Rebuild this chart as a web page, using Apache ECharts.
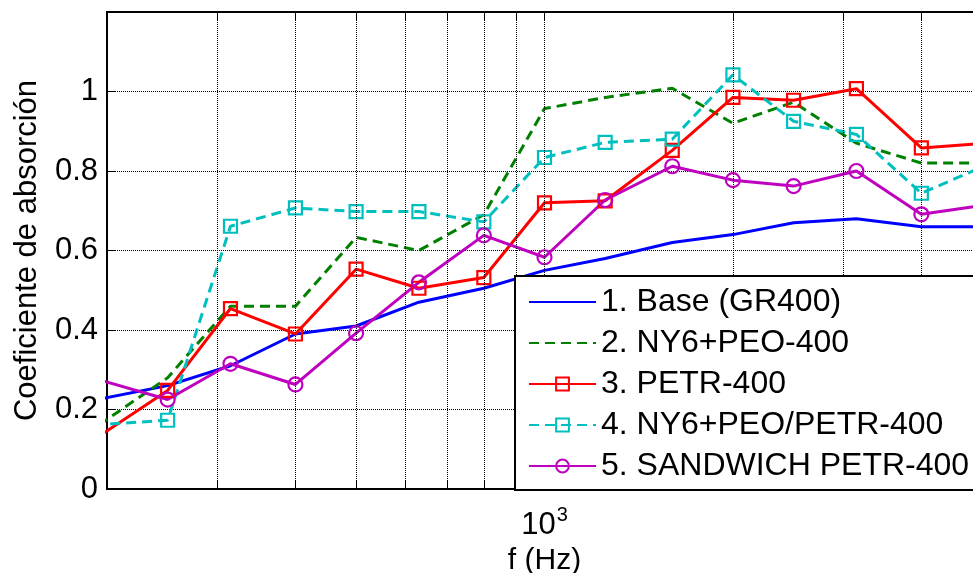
<!DOCTYPE html>
<html><head><meta charset="utf-8">
<script src="https://cdn.jsdelivr.net/npm/echarts@6/dist/echarts.min.js"></script>
<style>html,body{margin:0;padding:0;overflow:hidden;background:#fff;width:973px;height:573px}
#c{width:1000px;height:573px}</style></head>
<body><div id="c"></div>
<script>
// frequencies (Hz), third-octave bands; first point lies left of the visible axis start (200 Hz)
const freqs = [160, 250, 315, 400, 500, 630, 800, 1000, 1250, 1600, 2000, 2500, 3150, 4000, 5000];
const base       = [0.20, 0.26, 0.31, 0.39, 0.41, 0.47, 0.505, 0.55, 0.58, 0.62, 0.64, 0.67, 0.68, 0.66, 0.66];
const ny6peo     = [0.07, 0.28, 0.46, 0.46, 0.633, 0.60, 0.69, 0.957, 0.985, 1.008, 0.92, 0.973, 0.87, 0.82, 0.82];
const petr       = [0.044, 0.248, 0.454, 0.39, 0.553, 0.505, 0.532, 0.72, 0.725, 0.852, 0.985, 0.978, 1.007, 0.858, 0.869];
const ny6peoPetr = [0.153, 0.173, 0.661, 0.707, 0.698, 0.698, 0.672, 0.834, 0.872, 0.88, 1.042, 0.925, 0.892, 0.744, 0.81];
const sandwich   = [0.313, 0.225, 0.315, 0.263, 0.392, 0.52, 0.638, 0.583, 0.727, 0.812, 0.777, 0.762, 0.80, 0.691, 0.713];
const seriesNames = ['1. Base (GR400)', '2. NY6+PEO-400', '3. PETR-400', '4. NY6+PEO/PETR-400', '5. SANDWICH PETR-400'];
const gridFreqs = [300, 400, 500, 600, 700, 800, 900, 1000, 2000, 3000, 4000];
const xMin = 200, xMax = 5000;
const yMin = 0, yMax = 1.2, yStep = 0.2;
const xLabel = 'f (Hz)';
const yLabel = 'Coeficiente de absorción';

const FONT = 'Liberation Sans, Arial, sans-serif';
const pairs = arr => freqs.map((f, i) => [f, arr[i]]);
const chart = echarts.init(document.getElementById('c'), null, {renderer: 'canvas'});

function lineSeries(name, arr, color, dashed, symbol) {
  return {
    type: 'line', name, data: pairs(arr), clip: true,
    symbol: symbol || 'none', symbolSize: symbol === 'circle' ? 14 : 13,
    showSymbol: !!symbol,
    lineStyle: {color, width: 3, type: dashed ? [10, 6] : 'solid'},
    itemStyle: {color: 'rgba(0,0,0,0)', borderColor: color, borderWidth: symbol ? 2.2 : 0},
    emphasis: {disabled: true}, z: 3
  };
}

const option = {
  animation: false,
  backgroundColor: '#fff',
  grid: {left: 107, top: 12, right: 18, bottom: 84, show: true, borderColor: '#000', borderWidth: 2,
         containLabel: false, outerBoundsMode: 'none'},
  xAxis: {
    type: 'log', logBase: 10, min: xMin, max: xMax,
    name: xLabel, nameLocation: 'middle', nameGap: 55,
    nameTextStyle: {fontSize: 30, color: '#000', fontFamily: FONT},
    axisLine: {show: true, lineStyle: {color: '#000', width: 2}},
    axisTick: {show: false}, splitLine: {show: false},
    axisLabel: {
      show: true, margin: 16,
      formatter: v => Math.abs(v - 1000) < 1 ? '{b|10}{s|3}' : '',
      rich: {
        b: {fontSize: 31, color: '#000', fontFamily: FONT},
        s: {fontSize: 20, color: '#000', fontFamily: FONT, padding: [0, 0, 20, 1]}
      }
    }
  },
  yAxis: {
    type: 'value', min: yMin, max: yMax, interval: yStep,
    name: yLabel, nameLocation: 'middle', nameGap: 64, nameRotate: 90,
    nameTextStyle: {fontSize: 31, color: '#000', fontFamily: FONT},
    axisLine: {show: true, lineStyle: {color: '#000', width: 2}},
    axisTick: {show: true, inside: true, length: 9, lineStyle: {color: '#000', width: 1}},
    axisLabel: {fontSize: 31, color: '#000', fontFamily: FONT, margin: 9,
      formatter: v => v > 1.1 ? '' : String(+v.toFixed(1))},
    splitLine: {show: true, lineStyle: {color: '#000', width: 1, type: [1, 1]}}
  },
  legend: {
    data: seriesNames, orient: 'vertical', left: 515, top: 276,
    padding: [10, 20, 8, 13], itemWidth: 67, itemHeight: 16, itemGap: 9,
    backgroundColor: '#fff', borderColor: '#000', borderWidth: 2, borderRadius: 0,
    textStyle: {fontSize: 32, color: '#000', fontFamily: FONT, lineHeight: 32},
    selectedMode: false, z: 10
  },
  series: [
    {
      type: 'line', name: '_grid', data: [[1000, -1]], symbol: 'none', silent: true, z: 1,
      lineStyle: {width: 0},
      markLine: {
        silent: true, symbol: ['none', 'none'], label: {show: false}, animation: false,
        lineStyle: {color: '#000', width: 1, type: [1, 1]},
        data: gridFreqs.map(f => ({xAxis: f}))
      }
    },
    {
      type: 'line', name: '_ticks', data: [[1000, -1]], symbol: 'none', silent: true, z: 1,
      lineStyle: {width: 0},
      markLine: {
        silent: true, symbol: ['none', 'none'], label: {show: false}, animation: false,
        lineStyle: {color: '#000', width: 1, type: 'solid'},
        data: gridFreqs.flatMap(f => [
          [{coord: [f, yMin]}, {coord: [f, yMin + 0.022]}],
          [{coord: [f, yMax - 0.022]}, {coord: [f, yMax]}]
        ])
      }
    },
    lineSeries(seriesNames[0], base, '#0000ff', false, null),
    lineSeries(seriesNames[1], ny6peo, '#008000', true, null),
    lineSeries(seriesNames[2], petr, '#ff0000', false, 'rect'),
    lineSeries(seriesNames[3], ny6peoPetr, '#00bfbf', true, 'rect'),
    lineSeries(seriesNames[4], sandwich, '#bf00bf', false, 'circle')
  ]
};
chart.setOption(option);
</script></body></html>
